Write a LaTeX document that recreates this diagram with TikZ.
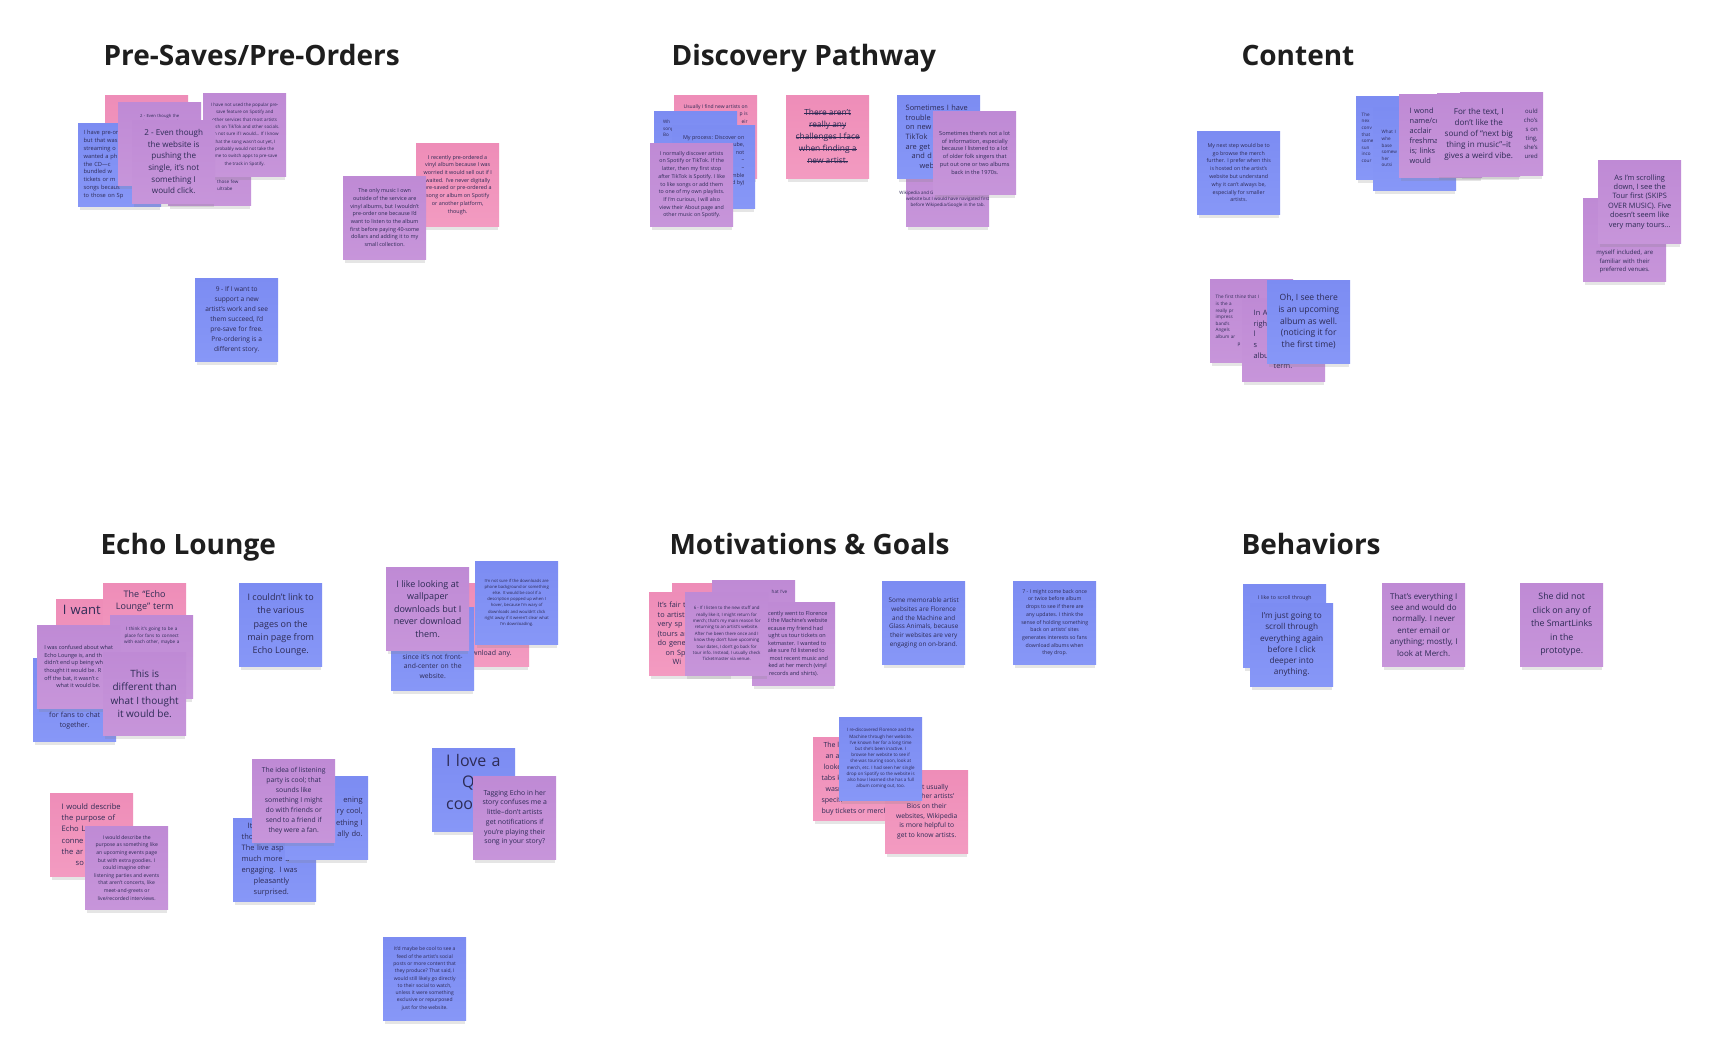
\documentclass[tikz,border=0pt]{standalone}
\usepackage{fontspec}
\setmainfont{Open Sans}
\usetikzlibrary{shadows}
\definecolor{ink}{HTML}{2D2B55}
\definecolor{head}{HTML}{1E1E1E}
\definecolor{blueA}{HTML}{7C8CF2}
\definecolor{blueB}{HTML}{8797F7}
\definecolor{purpA}{HTML}{BF8AD5}
\definecolor{purpB}{HTML}{C795DA}
\definecolor{pinkA}{HTML}{EE8DB8}
\definecolor{pinkB}{HTML}{F39BC1}
\hyphenpenalty=10000
\exhyphenpenalty=10000
\newcommand{\fT}{\fontsize{4.6}{6.6}\selectfont}
\newcommand{\fS}{\fontsize{5.7}{7.8}\selectfont}
\newcommand{\fsz}[2]{\fontsize{#1}{#2}\selectfont}
\newcommand{\strk}[1]{\leavevmode\setbox0\hbox{#1}\rlap{\rule[0.3em]{\wd0}{0.6pt}}\box0}
\begin{document}
\begin{tikzpicture}[
  x=1pt, y=-1pt,
  note/.style={rectangle,anchor=north west,minimum width=83pt,minimum height=83pt,inner xsep=5.5pt,inner ysep=3pt,text width=72pt,align=center,text=ink,drop shadow={opacity=0.2,shadow xshift=0pt,shadow yshift=-6pt,shadow scale=0.96}},
  bnote/.style={note,top color=blueA,bottom color=blueB},
  pnote/.style={note,top color=purpA,bottom color=purpB},
  knote/.style={note,top color=pinkA,bottom color=pinkB},
  brk/.style={text width={},inner xsep=2pt},
  frag/.style={inner sep=0pt,text width=72pt,align=center,text=ink},
  title/.style={anchor=base west,font=\fsz{28}{33}\bfseries,text=head}
]
  \useasboundingbox[fill=white] (0,0) rectangle (1717,1048);

  \node[title] (tpre) at (100,66) {Pre-Saves/Pre-Orders};
  \node[knote] (pre1) at (105,95) {};
  \node[bnote,align=left,font=\fS] (pre2) at (78,123) {I have pre-or\\but that was\\streaming o\\wanted a ph\\the CD—c\\bundled w\\tickets or m\\songs becaus\\to those on Sp};
  \node[pnote,label={[frag,font=\fsz{4.2}{6},anchor=north,yshift=-12pt]north:{2 - Even though the website is pushing the}}] (pre3) at (118,102) {};
  \node[pnote,label={[frag,font=\fT,align=left,text width=30pt,anchor=south west,xshift=49pt,yshift=15pt]south west:{those few\\ultrabe}}] (pre5) at (168,122) {};
  \node[pnote,brk,font=\fsz{4.5}{7.3}] (pre6) at (203,93) {I have not used the popular pre-\\save feature on Spotify and\\other services that most artists\\push on TikTok and other socials.\\I'm not sure if I would... If I know\\that the song wasn't out yet, I\\probably would not take the\\time to switch apps to pre-save\\the track in Spotify.};
  \node[pnote,brk,font=\fsz{8.1}{11.7}] (pre4) at (132,120) {2 - Even though\\the website is\\pushing the\\single, it's not\\something I\\would click.};
  \node[knote,brk,font=\fsz{5.4}{7.7}] (pre7) at (416,143) {I recently pre-ordered a\\vinyl album because I was\\worried it would sell out if I\\waited. I've never digitally\\pre-saved or pre-ordered a\\song or album on Spotify\\or another platform,\\though.};
  \node[pnote,brk,font=\fsz{5.4}{7.7}] (pre8) at (343,176) {The only music I own\\outside of the service are\\vinyl albums, but I wouldn't\\pre-order one because I'd\\want to listen to the album\\first before paying 40-some\\dollars and adding it to my\\small collection.};
  \node[bnote,brk,font=\fsz{6.6}{9.9}] (pre9) at (195,278) {9 - If I want to\\support a new\\artist's work and see\\them succeed, I'd\\pre-save for free.\\Pre-ordering is a\\different story.};

  \node[title] (tdis) at (668,66) {Discovery Pathway};
  \node[knote,label={[frag,text width={},font=\fsz{5}{7.5},align=right,anchor=north,yshift=-9pt]north:{Usually I find new artists on\\p is\\eir}}] (dis1) at (674,95) {};
  \node[bnote,label={[frag,font=\fT,align=left,anchor=north west,xshift=9pt,yshift=-9pt]north west:{Wh\\songs\\Bo}}] (dis2) at (654,111) {};
  \node[bnote,label={[frag,text width={},font=\fsz{5.4}{7.6},align=right,anchor=north,yshift=-10pt]north:{My process: Discover on\\ube,\\not\\–\\–\\mble\\d by)}}] (dis3) at (672,125) {};
  \node[pnote,brk,font=\fsz{5.3}{7.7}] (dis4) at (650,143) {I normally discover artists\\on Spotify or TikTok. If the\\latter, then my first stop\\after TikTok is Spotify. I like\\to like songs or add them\\to one of my own playlists.\\If I'm curious, I will also\\view their About page and\\other music on Spotify.};
  \node[knote,brk,font=\fsz{8.4}{12}] (dis5) at (786,95) {\strk{There aren't}\\\strk{really any}\\\strk{challenges I face}\\\strk{when finding a}\\\strk{new artist.}};
  \node[pnote,label={[frag,text width={},font=\fsz{4.5}{6},anchor=south,yshift=19pt]south:{Wikipedia and Google, but I'd check the artist's\\website but I would have navigated first\\before Wikipedia/Google in the tab.}}] (dis7) at (906,143) {};
  \node[bnote,align=left,text width=66pt,font=\fsz{7.4}{9.6}] (dis6) at (897,95) {Sometimes I have\\trouble\\on new\\TikTok\\are get\\\hspace*{6pt}and d\\\hspace*{14pt}web};
  \node[pnote,brk,font=\fsz{5.6}{7.8}] (dis8) at (933,111) {Sometimes there's not a lot\\of information, especially\\because I listened to a lot\\of older folk singers that\\put out one or two albums\\back in the 1970s.};

  \node[title] (tcon) at (1238,66) {Content};
  \node[bnote,brk,font=\fsz{5.3}{7.8}] (con1) at (1197,131) {My next step would be to\\go browse the merch\\further. I prefer when this\\is hosted on the artist's\\website but understand\\why it can't always be,\\especially for smaller\\artists.};
  \node[bnote,align=left,font=\fT] (con2) at (1356,96) {The\\nex\\conv\\that\\some\\sun\\inco\\cour};
  \node[bnote,align=left,text width=66pt,font=\fT] (con3) at (1373,107) {What I\\whe\\base\\somew\\her\\outsi};
  \node[pnote,align=right,font=\fsz{6}{9}] (con4) at (1460,92) {ould\\cho's\\s on\\ting,\\she's\\ured};
  \node[pnote,align=left,text width=62pt,font=\fsz{7.4}{10}] (con5) at (1399,94) {I wond\\name/cc\\acclair\\freshma\\is; links\\would};
  \node[pnote,brk,font=\fsz{8.1}{11}] (con6) at (1437,93) {For the text, I\\don't like the\\sound of “next big\\thing in music”–it\\gives a weird vibe.};
  \node[pnote,label={[frag,font=\fsz{6}{8.5},anchor=south,yshift=8pt]south:{myself included, are\\familiar with their\\preferred venues.}}] (con7) at (1583,198) {};
  \node[pnote,brk,font=\fsz{7.4}{9.4}] (con8) at (1598,160) {As I'm scrolling\\down, I see the\\Tour first (SKIPS\\OVER MUSIC). Five\\doesn't seem like\\very many tours…};
  \node[pnote,align=left,font=\fT] (con9) at (1210,279) {The first thing that I\\is the a\\really pr\\impress\\band's\\Angels\\album ar\\\hspace*{22pt}p};
  \node[pnote,align=left,text width=60pt,font=\fsz{7.4}{10.6}] (con10) at (1242,298) {In A\\righ\\l\\s\\albu\\\hspace*{20pt}term.};
  \node[bnote,brk,font=\fsz{8.6}{11.7}] (con11) at (1267,280) {Oh, I see there\\is an upcoming\\album as well.\\(noticing it for\\the first time)};

  \node[title] (tech) at (97,554) {Echo Lounge};
  \node[bnote,label={[frag,font=\fsz{7}{10.5},anchor=south,yshift=12pt]south:{for fans to chat\\together.}}] (ech1) at (33,658) {};
  \node[knote,label={[frag,font=\fsz{13}{16},anchor=north,xshift=-16pt,yshift=-6pt]north:{I want}}] (ech2) at (56,599) {};
  \node[knote,label={[frag,font=\fsz{9}{12.5},anchor=north,yshift=-7pt]north:{The “Echo\\Lounge” term}}] (ech4) at (103,583) {};
  \node[pnote,label={[frag,font=\fT,anchor=north,yshift=-12pt]north:{I think it's going to be a\\place for fans to connect\\with each other, maybe a}}] (ech5) at (110,615) {};
  \node[pnote,brk,align=left,font=\fsz{5.5}{7.6}] (ech3) at (37,625) {I was confused about what\\Echo Lounge is, and th\\didn't end up being wh\\thought it would be. R\\off the bat, it wasn't c\\\hspace*{12pt}what it would be.};
  \node[pnote,brk,font=\fsz{10}{13.4}] (ech6) at (103,652) {This is\\different than\\what I thought\\it would be.};
  \node[bnote,brk,font=\fsz{9}{13.2}] (ech7) at (239,583) {I couldn't link to\\the various\\pages on the\\main page from\\Echo Lounge.};
  \node[knote,label={[frag,font=\fsz{7}{10},anchor=south,yshift=9pt]south:{download any.}}] (ech8) at (446,583) {};
  \node[bnote,label={[frag,font=\fsz{6.8}{9.5},anchor=south,yshift=12pt]south:{since it's not front-\\and-center on the\\website.}}] (ech9) at (391,607) {};
  \node[pnote,brk,font=\fsz{9}{12.5}] (ech10) at (386,567) {I like looking at\\wallpaper\\downloads but I\\never download\\them.};
  \node[bnote,brk,font=\fsz{4.2}{6.2}] (ech11) at (475,561) {I'm not sure if the downloads are\\phone background or something\\else. It would be cool if a\\description popped up when I\\hover, because I'm wary of\\downloads and wouldn't click\\right away if it weren't clear what\\I'm downloading.};
  \node[knote,align=left,text width=60pt,font=\fsz{7.6}{11.2}] (ech12) at (50,793) {I would describe\\the purpose of\\Echo L\\conne\\the ar\\\hspace*{14pt}so};
  \node[pnote,brk,font=\fsz{5.1}{7.6}] (ech13) at (85,826) {I would describe the\\purpose as something like\\an upcoming events page\\but with extra goodies. I\\could imagine other\\listening parties and events\\that aren't concerts, like\\meet-and-greets or\\live/recorded interviews.};
  \node[bnote,align=left,text width=66pt,font=\fsz{7.5}{11}] (ech15) at (233,818) {\hspace*{6pt}It\\tho\\The live asp\\much more d\\engaging. I was\\\hspace*{12pt}pleasantly\\\hspace*{12pt}surprised.};
  \node[bnote,align=right,font=\fsz{7.5}{11.3}] (ech14) at (285,776) {ening\\ry cool,\\ething I\\ally do.};
  \node[pnote,brk,font=\fsz{6.8}{9.9}] (ech16) at (252,759) {The idea of listening\\party is cool; that\\sounds like\\something I might\\do with friends or\\send to a friend if\\they were a fan.};
  \node[bnote,label={[frag,font=\fsz{16}{21.5},align=left,anchor=north west,xshift=14pt,yshift=-6pt]north west:{I love a\\\hspace*{16pt}Q\\coo}}] (ech17) at (432,748) {};
  \node[pnote,brk,font=\fsz{6.9}{9.7}] (ech18) at (473,776) {Tagging Echo in her\\story confuses me a\\little–don't artists\\get notifications if\\you're playing their\\song in your story?};
  \node[bnote,brk,font=\fsz{5}{7.3}] (ech19) at (383,937) {It'd maybe be cool to see a\\feed of the artist's social\\posts or more content that\\they produce? That said, I\\would still likely go directly\\to their social to watch,\\unless it were something\\exclusive or repurposed\\just for the website.};

  \node[title] (tmot) at (666,554) {Motivations \& Goals};
  \node[knote] (mot2) at (672,583) {};
  \node[pnote,label={[frag,font=\fT,align=right,text width=40pt,anchor=north east,xshift=-8pt,yshift=-10pt]north east:{hat I've}}] (mot3) at (712,580) {};
  \node[knote,align=left,text width=66pt,font=\fsz{7.3}{9.5}] (mot1) at (649,592) {It's fair to\\to artist\\very sp\\(tours an\\do gene\\\hspace*{8pt}on Sp\\\hspace*{15pt}Wi};
  \node[pnote,brk,font=\fsz{5.5}{7.5}] (mot4) at (752,602) {I recently went to Florence\\and the Machine's website\\because my friend had\\bought us tour tickets on\\Ticketmaster. I wanted to\\make sure I'd listened to\\her most recent music and\\looked at her merch (vinyl\\records and shirts).};
  \node[pnote,brk,font=\fsz{4.4}{6.4}] (mot5) at (685,592) {6 - If I listen to the new stuff and\\really like it, I might return for\\merch; that's my main reason for\\returning to an artist's website.\\After I've been there once and I\\know they don't have upcoming\\tour dates, I don't go back for\\tour info. Instead, I usually check\\Ticketmaster via venue.};
  \node[bnote,brk,font=\fsz{6.4}{8.7}] (mot6) at (882,581) {Some memorable artist\\websites are Florence\\and the Machine and\\Glass Animals, because\\their websites are very\\engaging on on-brand.};
  \node[bnote,brk,font=\fsz{5.2}{7.7}] (mot7) at (1013,581) {7 - I might come back once\\or twice before album\\drops to see if there are\\any updates. I think the\\sense of holding something\\back on artists' sites\\generates interests so fans\\download albums when\\they drop.};
  \node[knote,brk,align=left,font=\fsz{7}{11}] (mot8) at (813,737) {\hspace*{2pt}The la\\\hspace*{4pt}an a\\\hspace*{2pt}looke\\tabs ki\\\hspace*{4pt}wasn\\specifi\\buy tickets or merch};
  \node[knote,brk,font=\fsz{6.7}{9.7}] (mot10) at (885,770) {I don't usually\\read other artists'\\Bios on their\\websites, Wikipedia\\is more helpful to\\get to know artists.};
  \node[bnote,brk,font=\fsz{4.5}{6.2}] (mot9) at (839,717) {I re-discovered Florence and the\\Machine through her website.\\I've known her for a long time\\but she's been inactive. I\\browse her website to see if\\she was touring soon, look at\\merch, etc. I had seen her single\\drop on Spotify so the website is\\also how I learned she has a full\\album coming out, too.};

  \node[title] (tbeh) at (1238,554) {Behaviors};
  \node[bnote,label={[frag,font=\fsz{5.2}{7},anchor=north,yshift=-11pt]north:{I like to scroll through}}] (beh1) at (1243,584) {};
  \node[bnote,brk,font=\fsz{8.2}{11.3}] (beh2) at (1250,603) {I'm just going to\\scroll through\\everything again\\before I click\\deeper into\\anything.};
  \node[pnote,brk,font=\fsz{8}{11.4}] (beh3) at (1382,583) {That's everything I\\see and would do\\normally. I never\\enter email or\\anything; mostly, I\\look at Merch.};
  \node[pnote,brk,font=\fsz{8.8}{13.5}] (beh4) at (1520,583) {She did not\\click on any of\\the SmartLinks\\in the\\prototype.};
\end{tikzpicture}
\end{document}
